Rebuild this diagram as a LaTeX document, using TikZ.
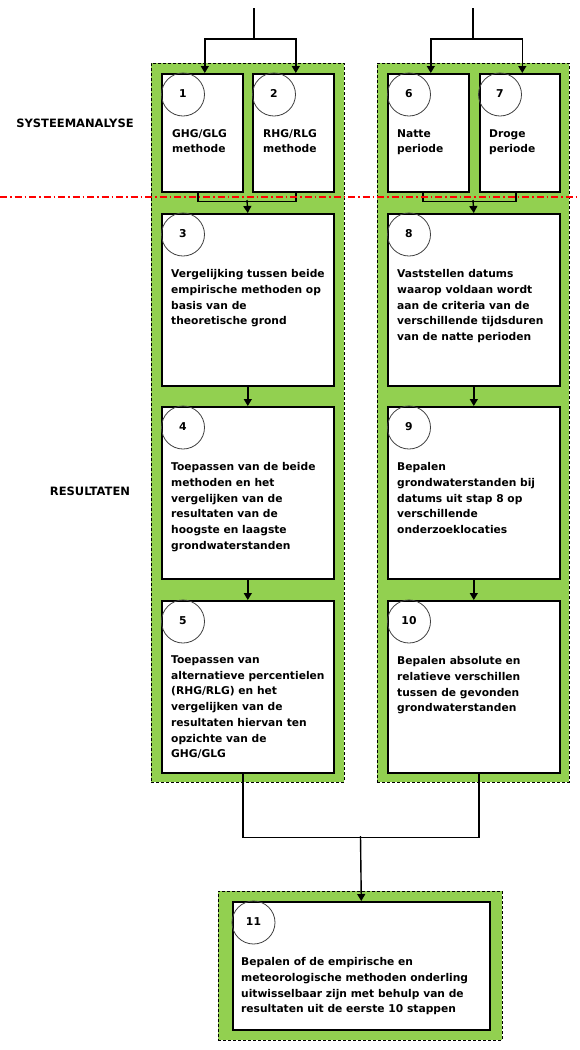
\documentclass[tikz,border=0pt]{standalone}
\usepackage{fontspec}
\setmainfont{DejaVu Sans}
\usetikzlibrary{arrows.meta}
\definecolor{pgreen}{HTML}{92D050}
\definecolor{sepred}{HTML}{FF0000}
\begin{document}
\begin{tikzpicture}[x=1pt,y=-1pt,
  panel/.style={fill=pgreen, draw=black, dash pattern=on 3pt off 2pt, line width=0.7pt, anchor=north west, inner sep=0pt},
  box/.style={draw=black, fill=white, line width=1.6pt, anchor=north west, inner sep=0pt},
  num/.style={circle, draw=black!75, line width=0.8pt, minimum size=43pt, inner sep=0pt, font=\bfseries\fontsize{10.8}{13}\selectfont},
  txt/.style={anchor=north west, inner sep=0pt, align=left, font=\bfseries\fontsize{10.7}{15.7}\selectfont},
  lbl/.style={inner sep=0pt, font=\bfseries\fontsize{11.5}{13}\selectfont},
  conn/.style={line width=1.4pt},
  arr/.style={conn, -{Triangle[length=7pt,width=8pt]}},
]
\useasboundingbox (0,0) rectangle (580,1050);

% panels
\node[panel, minimum width=193pt, minimum height=719pt] (pL) at (151,63) {};
\node[panel, minimum width=192pt, minimum height=719pt] (pR) at (377,63) {};
\node[panel, minimum width=284pt, minimum height=149pt] (pB) at (218,891) {};

% boxes left
\node[box, minimum width=81pt, minimum height=118pt] (b1) at (161,73) {};
\node[box, minimum width=81pt, minimum height=118pt] (b2) at (252,73) {};
\node[box, minimum width=172pt, minimum height=172pt] (b3) at (161,213) {};
\node[box, minimum width=172pt, minimum height=172pt] (b4) at (161,406) {};
\node[box, minimum width=172pt, minimum height=172pt] (b5) at (161,600) {};
% boxes right
\node[box, minimum width=81pt, minimum height=118pt] (b6) at (387,73) {};
\node[box, minimum width=80pt, minimum height=118pt] (b7) at (479,73) {};
\node[box, minimum width=172pt, minimum height=172pt] (b8) at (387,213) {};
\node[box, minimum width=172pt, minimum height=172pt] (b9) at (387,406) {};
\node[box, minimum width=172pt, minimum height=172pt] (b10) at (387,600) {};
% box bottom
\node[box, minimum width=257pt, minimum height=128pt] (b11) at (232,901) {};

% circles
\node[num] (c1) at (183,94.5) {\raisebox{2pt}{1}};
\node[num] (c2) at (274,94.5) {\raisebox{2pt}{2}};
\node[num] (c3) at (183,234.5) {\raisebox{2pt}{3}};
\node[num] (c4) at (183,427.5) {\raisebox{2pt}{4}};
\node[num] (c5) at (183,621.5) {\raisebox{2pt}{5}};
\node[num] (c6) at (409,94.5) {\raisebox{2pt}{6}};
\node[num] (c7) at (500,94.5) {\raisebox{2pt}{7}};
\node[num] (c8) at (409,234.5) {\raisebox{2pt}{8}};
\node[num] (c9) at (409,427.5) {\raisebox{2pt}{9}};
\node[num] (c10) at (409,621.5) {\raisebox{2pt}{10}};
\node[num] (c11) at (253.5,922.5) {\raisebox{2pt}{11}};

% texts
\node[txt] (t1) at (172,129) {GHG/GLG\\methode};
\node[txt] (t2) at (263,129) {RHG/RLG\\methode};
\node[txt] (t6) at (397,129) {Natte\\periode};
\node[txt] (t7) at (489,129) {Droge\\periode};
\node[txt] (t3) at (171,269.5) {Vergelijking tussen beide\\empirische methoden op\\basis van de\\theoretische grond};
\node[txt] (t4) at (171,462.5) {Toepassen van de beide\\methoden en het\\vergelijken van de\\resultaten van de\\hoogste en laagste\\grondwaterstanden};
\node[txt] (t5) at (171,655.5) {Toepassen van\\alternatieve percentielen\\(RHG/RLG) en het\\vergelijken van de\\resultaten hiervan ten\\opzichte van de\\GHG/GLG};
\node[txt] (t8) at (397,269.5) {Vaststellen datums\\waarop voldaan wordt\\aan de criteria van de\\verschillende tijdsduren\\van de natte perioden};
\node[txt] (t9) at (397,462.5) {Bepalen\\grondwaterstanden bij\\datums uit stap 8 op\\verschillende\\onderzoeklocaties};
\node[txt] (t10) at (397,656.5) {Bepalen absolute en\\relatieve verschillen\\tussen de gevonden\\grondwaterstanden};
\node[txt] (t11) at (241,957.5) {Bepalen of de empirische en\\meteorologische methoden onderling\\uitwisselbaar zijn met behulp van de\\resultaten uit de eerste 10 stappen};

% side labels
\node[lbl] (l1) at (75,123) {SYSTEEMANALYSE};
\node[lbl] (l2) at (90,491) {RESULTATEN};

% connectors top
\coordinate (sL) at (254,8);
\coordinate (jL) at (254,39);
\draw[conn] (sL) -- (jL);
\draw[arr] (jL) -| ([xshift=2.5pt]b1.north);
\draw[arr] (jL) -| ([xshift=2.5pt]b2.north);
\coordinate (sR) at (473,8);
\coordinate (jR) at (473,39);
\draw[conn] (sR) -- (jR);
\draw[arr] (jR) -| ([xshift=2.5pt]b6.north);
\draw[arr] (jR) -| ([xshift=2.5pt]b7.north);

% merges
\coordinate (mL) at (247,200);
\draw[conn] ([xshift=-4.5pt]b1.south) -- ++(0,9) -| ([xshift=2.5pt]b2.south);
\draw[arr] (mL) -- (b3.north);
\coordinate (mR) at (473,200);
\draw[conn] ([xshift=-5.5pt]b6.south) -- ++(0,9) -| ([xshift=-4pt]b7.south);
\draw[arr] (mR) -- (b8.north);

% vertical chains
\draw[arr] (b3.south) -- (b4.north);
\draw[arr] (b4.south) -- (b5.north);
\draw[arr] (b8.south) -- (b9.north);
\draw[arr] (b9.south) -- (b10.north);

% bottom
\coordinate (mB) at (360.5,836);
\draw[conn] ([xshift=-5pt]b5.south) -- ++(0,64) -| ([xshift=5pt]b10.south);
\draw[arr] (mB) -- (b11.north);

% red separator
\draw[draw=sepred, line width=1.1pt, dash pattern=on 7pt off 3pt on 1.5pt off 3pt] (0,197) -- (580,197);
\end{tikzpicture}
\end{document}
